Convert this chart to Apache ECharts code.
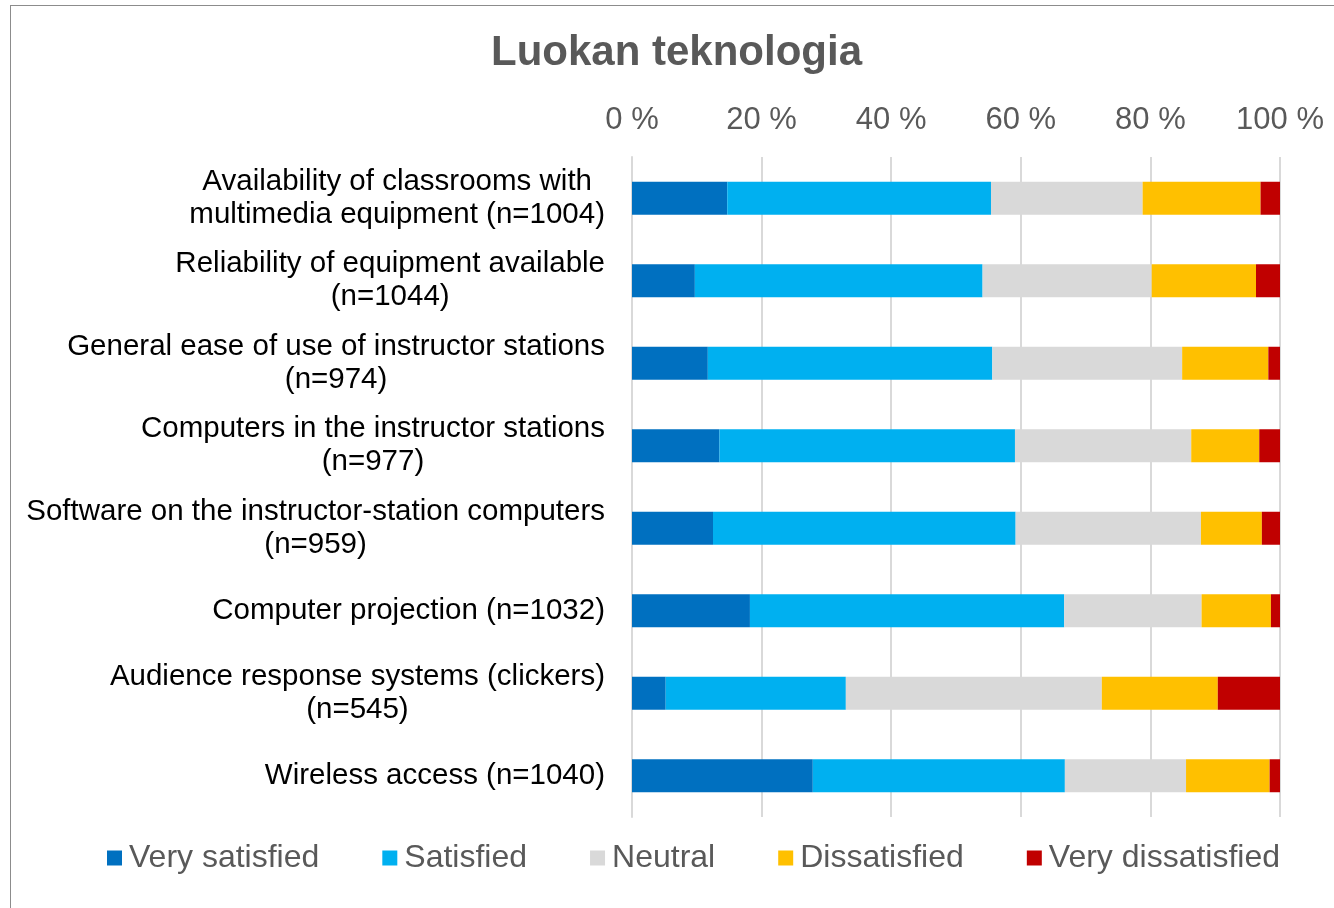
<!DOCTYPE html>
<html>
<head>
<meta charset="utf-8" />
<title>Luokan teknologia</title>
<script type="text/javascript" src="https://cdn.jsdelivr.net/npm/echarts@6/dist/echarts.min.js"></script>
<style>
  body { margin: 0; background: #fff; }
  #frame { position: absolute; left: 10px; top: 5px; width: 1400px; height: 1000px; border: 1px solid #8c8c8c; }
  #main { position: absolute; left: 0; top: 0; width: 1334px; height: 908px; }
</style>
</head>
<body>
<div id="frame"></div>
<div id="main"></div>
<script type="text/javascript">
    var categories = [
        'Availability of classrooms with\nmultimedia equipment (n=1004)',
        'Reliability of equipment available\n(n=1044)',
        'General ease of use of instructor stations\n(n=974)',
        'Computers in the instructor stations\n(n=977)',
        'Software on the instructor-station computers\n(n=959)',
        'Computer projection (n=1032)',
        'Audience response systems (clickers)\n(n=545)',
        'Wireless access (n=1040)'
    ];
    var verySatisfied    = [14.7,  9.7, 11.7, 13.5, 12.5, 18.2,  5.2, 27.9];
    var satisfied        = [40.7, 44.4, 43.9, 45.6, 46.7, 48.5, 27.8, 38.9];
    var neutral          = [23.4, 26.1, 29.3, 27.2, 28.6, 21.2, 39.5, 18.7];
    var dissatisfied     = [18.2, 16.1, 13.3, 10.5,  9.4, 10.7, 17.9, 12.9];
    var veryDissatisfied = [ 3.0,  3.7,  1.8,  3.2,  2.8,  1.4,  9.6,  1.6];

    var seriesNames = ['Very satisfied', 'Satisfied', 'Neutral', 'Dissatisfied', 'Very dissatisfied'];
    var seriesData = [verySatisfied, satisfied, neutral, dissatisfied, veryDissatisfied];
    var colors = ['#0070C0', '#00B0F0', '#D9D9D9', '#FFC000', '#C00000'];

    var myChart = echarts.init(document.getElementById('main'));

    myChart.setOption({
        color: colors,
        animation: false,
        textStyle: { fontFamily: 'Liberation Sans, Arial, sans-serif' },
        title: {
            text: 'Luokan teknologia',
            left: 486,
            top: 27,
            textStyle: { fontSize: 42, fontWeight: 'bold', color: '#595959' }
        },
        legend: {
            data: seriesNames,
            left: 102,
            top: 837,
            itemWidth: 15,
            itemHeight: 15,
            itemGap: 63,
            icon: 'rect',
            textStyle: { fontSize: 32, color: '#595959', padding: [0, 0, 0, 2] }
        },
        grid: {
            left: 632,
            right: 54,
            top: 157,
            bottom: 91
        },
        xAxis: {
            type: 'value',
            position: 'top',
            min: 0,
            max: 100,
            interval: 20,
            axisLine: { show: false },
            axisTick: { show: false },
            splitLine: { lineStyle: { color: '#d9d9d9', width: 2 } },
            axisLabel: {
                formatter: '{value} %',
                fontSize: 31,
                color: '#595959',
                margin: 21
            }
        },
        yAxis: {
            type: 'category',
            inverse: true,
            data: categories,
            axisLine: { show: true, lineStyle: { color: '#d9d9d9', width: 2 } },
            axisTick: { show: false },
            axisLabel: {
                margin: 27,
                fontSize: 29.5,
                color: '#000',
                lineHeight: 33,
                formatter: function (v) {
                    return v.split('\n').map(function (s) { return '{c|' + s + '}'; }).join('\n');
                },
                rich: {
                    c: { align: 'center', fontSize: 29.5, lineHeight: 33, color: '#000' }
                }
            }
        },
        series: seriesNames.map(function (name, i) {
            return {
                name: name,
                type: 'bar',
                stack: 'total',
                barWidth: 33,
                data: seriesData[i]
            };
        })
    });
</script>
</body>
</html>
